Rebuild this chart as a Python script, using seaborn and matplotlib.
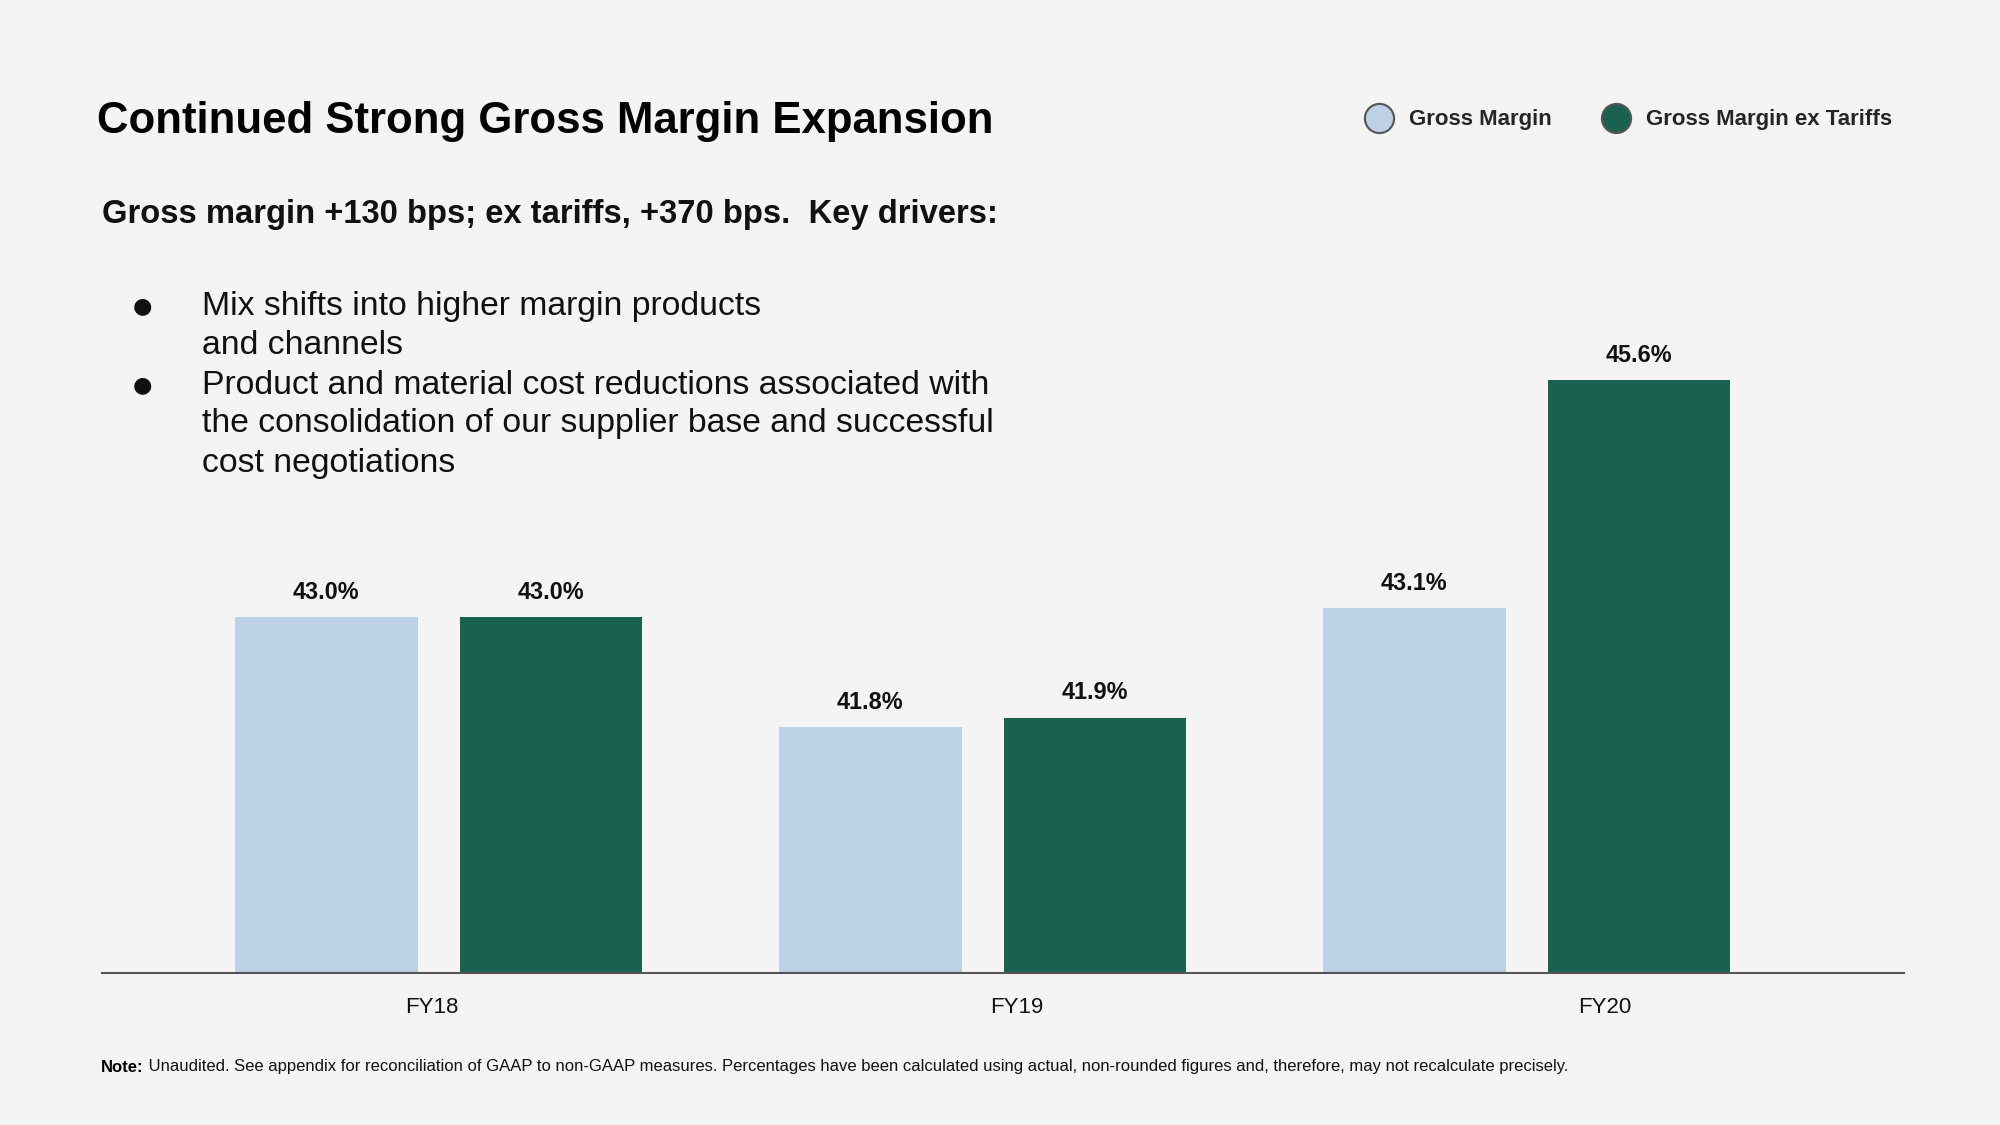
import pandas as pd
import seaborn as sns
import matplotlib.pyplot as plt
from matplotlib.lines import Line2D

years = ["FY18", "FY19", "FY20"]
gross_margin = [43.0, 41.8, 43.1]
gross_margin_ex_tariffs = [43.0, 41.9, 45.6]
series_names = ["Gross Margin", "Gross Margin ex Tariffs"]
colors = ["#BDD2E6", "#1B6150"]

title = "Continued Strong Gross Margin Expansion"
subtitle = "Gross margin +130 bps; ex tariffs, +370 bps.  Key drivers:"
bullet_lines = [
    ("●", "Mix shifts into higher margin products"),
    ("", "and channels"),
    ("●", "Product and material cost reductions associated with"),
    ("", "the consolidation of our supplier base and successful"),
    ("", "cost negotiations"),
]
note_bold = "Note:"
note_text = (" Unaudited. See appendix for reconciliation of GAAP to non-GAAP measures. "
             "Percentages have been calculated using actual, non-rounded figures and, "
             "therefore, may not recalculate precisely.")

df = pd.DataFrame({
    "year": years * 2,
    "value": gross_margin + gross_margin_ex_tariffs,
    "series": [series_names[0]] * 3 + [series_names[1]] * 3,
})

BG = "#F4F4F4"
sns.set_theme(style="white")
plt.rcParams["font.family"] = ["Liberation Sans", "DejaVu Sans"]

W, H = 2000, 1125
fig = plt.figure(figsize=(20, 11.25), dpi=100, facecolor=BG)


def fx(px):
    return px / W


def fy(py):
    return 1 - py / H


ax = fig.add_axes([fx(102), fy(973), fx(1904) - fx(102), fy(150) - fy(973)])
ax.set_facecolor(BG)

sns.barplot(
    data=df, x="year", y="value", hue="series",
    palette=colors, width=0.826, gap=0.187, legend=False,
    saturation=1, linewidth=0, ax=ax,
)

ax.set_ylim(39.1, 39.1 + 823 / 91.2)
ax.set_xlim(-0.619, 2.694)
for cont, vals in zip(ax.containers, [gross_margin, gross_margin_ex_tariffs]):
    ax.bar_label(cont, labels=[f"{v:.1f}%" for v in vals], padding=9.5,
                 fontsize=16.8, fontweight="bold", color="#111111")

for s in ["left", "right", "top"]:
    ax.spines[s].set_visible(False)
ax.spines["bottom"].set_color("#555555")
ax.spines["bottom"].set_linewidth(1.5)
ax.set_yticks([])
ax.set_xticks([-0.012, 1.062, 2.144], years)
ax.tick_params(axis="x", length=0, pad=17, labelsize=16, labelcolor="#111111")
ax.set_xlabel("")
ax.set_ylabel("")

# texts
fig.text(fx(97), fy(121), title, fontsize=31.5, fontweight="bold", va="center", color="#000000")
fig.text(fx(102), fy(215), subtitle, fontsize=23.6, fontweight="bold", va="center", color="#111111")
for (bullet, line), py in zip(bullet_lines, [306, 345, 385, 424, 464]):
    if bullet:
        fig.text(fx(142), fy(py), bullet, fontsize=16, va="center", ha="center",
                 family=["DejaVu Sans"], color="#111111")
    fig.text(fx(202), fy(py), line, fontsize=24.3, va="center", color="#111111")

nb = fig.text(fx(101), fy(1067), note_bold, fontsize=12, fontweight="bold", va="center", color="#000000")
renderer = fig.canvas.get_renderer()
bb = nb.get_window_extent(renderer)
fig.text(bb.x1 / W, fy(1067), note_text, fontsize=12, va="center", color="#111111")

# legend
handles = [
    Line2D([], [], linestyle="none", marker="o", markersize=21, markerfacecolor=c,
           markeredgecolor="#555555", markeredgewidth=1.5)
    for c in colors
]
fig.legend(handles, series_names, loc="center left", bbox_to_anchor=(fx(1363), fy(120)),
           ncol=2, frameon=False, handlelength=1.4, handletextpad=0.65, columnspacing=2.2,
           borderpad=0, borderaxespad=0,
           prop={"weight": "bold", "size": 16})

fig.savefig("out.png", dpi=100, facecolor=BG)
